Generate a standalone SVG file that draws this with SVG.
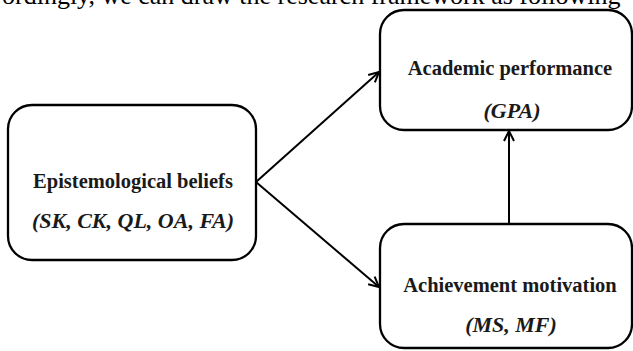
<svg xmlns="http://www.w3.org/2000/svg" width="633" height="351" viewBox="0 0 633 351">
<defs>
<style>
.box{fill:#fff;stroke:#000;stroke-width:2.3}
.t{font-family:"Liberation Serif","Times New Roman",serif;font-weight:bold;font-size:20.5px;fill:#1a1a1a;text-anchor:middle}
.i{font-style:italic;font-size:22px}
.c{stroke:#000;stroke-width:2;fill:none}
.top{font-family:"Liberation Serif","Times New Roman",serif;font-size:26px;fill:#000}
</style>
<marker id="ah" viewBox="0 0 12 12" refX="11" refY="6" markerWidth="12" markerHeight="12" markerUnits="userSpaceOnUse" orient="auto">
<path d="M1,1 L11,6 L1,11" fill="none" stroke="#000" stroke-width="2"/>
</marker>
</defs>
<rect width="633" height="351" fill="#fff"/>
<text class="top" x="2" y="4">ordingly, we can draw the research framework as following</text>
<g id="epistemological">
<rect class="box" x="8" y="105" width="248" height="155" rx="24"/>
<text class="t" x="133" y="188">Epistemological beliefs</text>
<text class="t i" x="133" y="228">(SK, CK, QL, OA, FA)</text>
</g>
<g id="academic">
<rect class="box" x="380" y="10" width="252" height="120" rx="24"/>
<text class="t" x="510" y="75">Academic performance</text>
<text class="t i" x="512" y="118">(GPA)</text>
</g>
<g id="achievement">
<rect class="box" x="380" y="224" width="252" height="124" rx="24"/>
<text class="t" x="510" y="292">Achievement motivation</text>
<text class="t i" x="511" y="332">(MS, MF)</text>
</g>
<g id="connectors">
<line class="c" x1="256" y1="182" x2="379" y2="72" marker-end="url(#ah)"/>
<line class="c" x1="256" y1="182" x2="379" y2="287" marker-end="url(#ah)"/>
<line class="c" x1="509" y1="224" x2="509" y2="131" marker-end="url(#ah)"/>
</g>
</svg>
